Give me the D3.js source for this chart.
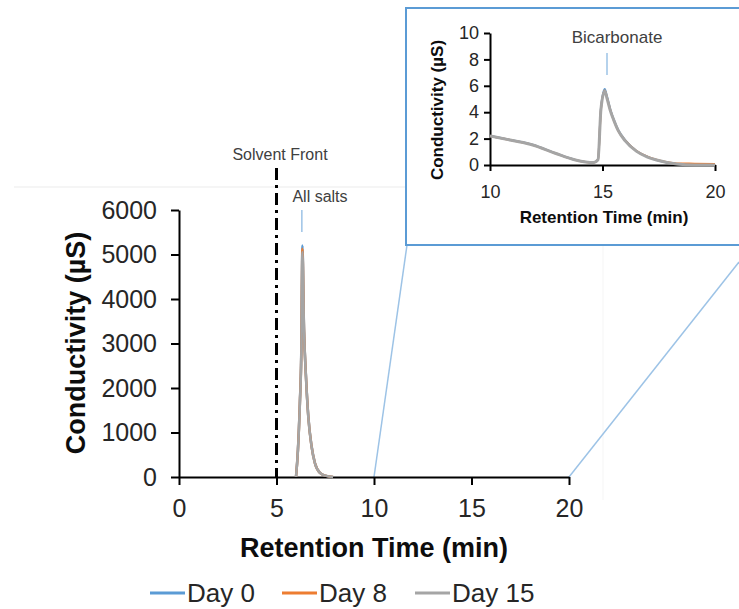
<!DOCTYPE html>
<html>
<head>
<meta charset="utf-8">
<script src="https://cdn.jsdelivr.net/npm/d3@7"></script>
<style>
  body { margin: 0; background: #fff; }
  svg { display: block; font-family: "Liberation Sans", Arial, sans-serif; }
</style>
</head>
<body>
<div id="chart"></div>
<script>
const width = 739;
const height = 609;

// Main chromatogram (peak region only, baseline is 0 elsewhere)
const mainTime = [6.0, 6.1, 6.2, 6.27, 6.33, 6.41, 6.51, 6.63, 6.8, 6.97, 7.23, 7.5, 7.9];
const mainDay0 = [0, 620, 1700, 2800, 5200, 3350, 2280, 1370, 690, 315, 92, 30, 0];
const mainDay8 = [0, 610, 1680, 2750, 5130, 3320, 2260, 1360, 685, 312, 91, 30, 0];
const mainDay15 = [0, 600, 1650, 2700, 5050, 3300, 2250, 1350, 680, 310, 90, 30, 0];

// Inset (10 - 20 min)
const insetTime = [10, 11, 11.9, 12.9, 13.8, 14.6, 14.8, 14.93, 15.1, 15.2, 15.35, 15.5, 15.7, 16.0, 16.5, 17.0, 17.4, 18.3, 19.1, 20];
const insetDay0 = [2.2, 1.87, 1.53, 0.9, 0.39, 0.18, 0.4, 4.3, 5.75, 5.2, 4.2, 3.45, 2.65, 1.9, 1.08, 0.62, 0.38, 0.08, 0.0, 0.0];
const insetDay8 = [2.2, 1.86, 1.52, 0.89, 0.38, 0.18, 0.4, 4.2, 5.65, 5.1, 4.15, 3.4, 2.6, 1.88, 1.07, 0.63, 0.4, 0.12, 0.1, 0.08];
const insetDay15 = [2.2, 1.85, 1.52, 0.89, 0.38, 0.18, 0.4, 4.2, 5.6, 5.05, 4.1, 3.4, 2.6, 1.85, 1.05, 0.6, 0.38, 0.08, 0.0, 0.0];

const seriesNames = ["Day 0", "Day 8", "Day 15"];
const xTicks = [0, 5, 10, 15, 20];
const yTicks = [0, 1000, 2000, 3000, 4000, 5000, 6000];
const insetXTicks = [10, 15, 20];
const insetYTicks = [0, 2, 4, 6, 8, 10];

const color = d3.scaleOrdinal()
    .domain(seriesNames)
    .range(["#5B9BD5", "#ED7D31", "#A5A5A5"]);

const svg = d3.select("#chart").append("svg")
    .attr("width", width)
    .attr("height", height);

// faint outline of the main chart area
svg.append("line")
    .attr("x1", 14).attr("x2", 406).attr("y1", 187).attr("y2", 187)
    .style("stroke", "#ebebeb").style("stroke-width", 1);
svg.append("line")
    .attr("x1", 603).attr("x2", 603).attr("y1", 245).attr("y2", 500)
    .style("stroke", "#f5f5f5").style("stroke-width", 1);

// ---------- main chart ----------
const x = d3.scaleLinear().domain([0, 20]).range([179, 569]);
const y = d3.scaleLinear().domain([0, 6000]).range([477, 210]);

// zoom connector lines
svg.append("line")
    .attr("x1", x(10)).attr("y1", y(0)).attr("x2", 407).attr("y2", 245)
    .style("stroke", "#9DC3E6").style("stroke-width", 1.5);
svg.append("line")
    .attr("x1", x(20)).attr("y1", y(0)).attr("x2", 739).attr("y2", 262)
    .style("stroke", "#9DC3E6").style("stroke-width", 1.5);

const xAxis = svg.append("g")
    .attr("transform", `translate(0,${y(0)})`)
    .call(d3.axisBottom(x).tickValues(xTicks).tickSize(8).tickPadding(14).tickSizeOuter(0));
const yAxis = svg.append("g")
    .attr("transform", `translate(${x(0)},0)`)
    .call(d3.axisLeft(y).tickValues(yTicks).tickFormat(d3.format("d")).tickSize(8).tickPadding(14).tickSizeOuter(0));

[xAxis, yAxis].forEach(a => {
    a.select(".domain").style("stroke", "#000").style("stroke-width", 2);
    a.selectAll(".tick line").style("stroke", "#000").style("stroke-width", 2);
    a.selectAll(".tick text")
        .style("font-size", "25px")
        .style("fill", "#262626")
        .style("font-family", "Liberation Sans, Arial, sans-serif");
});

svg.append("text")
    .attr("x", 374)
    .attr("y", 557)
    .attr("text-anchor", "middle")
    .style("font-size", "27px")
    .style("font-weight", "bold")
    .style("fill", "#0d0d0d")
    .text("Retention Time (min)");

svg.append("text")
    .attr("transform", "translate(85,343) rotate(-90)")
    .attr("text-anchor", "middle")
    .style("font-size", "27px")
    .style("font-weight", "bold")
    .style("fill", "#0d0d0d")
    .text("Conductivity (µS)");

// solvent front
svg.append("line")
    .attr("x1", x(5)).attr("x2", x(5)).attr("y1", 168).attr("y2", y(0))
    .style("stroke", "#000").style("stroke-width", 3)
    .style("stroke-dasharray", "12,5,3,5");
svg.append("text")
    .attr("x", 280).attr("y", 160)
    .attr("text-anchor", "middle")
    .style("font-size", "16px")
    .style("fill", "#404040")
    .text("Solvent Front");

svg.append("text")
    .attr("x", 320).attr("y", 202)
    .attr("text-anchor", "middle")
    .style("font-size", "16px")
    .style("fill", "#404040")
    .text("All salts");
svg.append("line")
    .attr("x1", x(6.3)).attr("x2", x(6.3)).attr("y1", 210).attr("y2", 232)
    .style("stroke", "#9DC3E6").style("stroke-width", 1.5);

const mainLine = d3.line()
    .x(d => x(d[0]))
    .y(d => y(d[1]))
    .curve(d3.curveMonotoneX);

const mainData = [mainDay0, mainDay8, mainDay15];
mainData.forEach((vals, i) => {
    svg.append("path")
        .datum(mainTime.map((t, j) => [t, vals[j]]))
        .attr("d", mainLine)
        .style("fill", "none")
        .style("stroke", color(seriesNames[i]))
        .style("stroke-width", 2.5);
});

// ---------- inset ----------
svg.append("rect")
    .attr("x", 406).attr("y", 8)
    .attr("width", 350).attr("height", 237)
    .style("fill", "#fff")
    .style("stroke", "#5B9BD5")
    .style("stroke-width", 2);

const ix = d3.scaleLinear().domain([10, 20]).range([490, 715]);
const iy = d3.scaleLinear().domain([0, 10]).range([165, 33]);

const ixAxis = svg.append("g")
    .attr("transform", `translate(0,${iy(0)})`)
    .call(d3.axisBottom(ix).tickValues(insetXTicks).tickSize(6).tickPadding(14).tickSizeOuter(0));
const iyAxis = svg.append("g")
    .attr("transform", `translate(${ix(10)},0)`)
    .call(d3.axisLeft(iy).tickValues(insetYTicks).tickSize(6).tickPadding(5).tickSizeOuter(0));

[ixAxis, iyAxis].forEach(a => {
    a.select(".domain").style("stroke", "#000").style("stroke-width", 2);
    a.selectAll(".tick line").style("stroke", "#000").style("stroke-width", 2);
    a.selectAll(".tick text")
        .style("font-size", "18px")
        .style("fill", "#262626")
        .style("font-family", "Liberation Sans, Arial, sans-serif");
});

svg.append("text")
    .attr("x", 604).attr("y", 223)
    .attr("text-anchor", "middle")
    .style("font-size", "17px")
    .style("font-weight", "bold")
    .style("fill", "#0d0d0d")
    .text("Retention Time (min)");

svg.append("text")
    .attr("transform", "translate(443,110) rotate(-90)")
    .attr("text-anchor", "middle")
    .style("font-size", "17px")
    .style("font-weight", "bold")
    .style("fill", "#0d0d0d")
    .text("Conductivity (µS)");

svg.append("text")
    .attr("x", 617).attr("y", 43)
    .attr("text-anchor", "middle")
    .style("font-size", "17px")
    .style("fill", "#404040")
    .text("Bicarbonate");
svg.append("line")
    .attr("x1", ix(15.2)).attr("x2", ix(15.2)).attr("y1", 53).attr("y2", 75)
    .style("stroke", "#9DC3E6").style("stroke-width", 1.5);

const insetLine = d3.line()
    .x(d => ix(d[0]))
    .y(d => iy(d[1]))
    .curve(d3.curveMonotoneX);

const insetData = [insetDay0, insetDay8, insetDay15];
insetData.forEach((vals, i) => {
    svg.append("path")
        .datum(insetTime.map((t, j) => [t, vals[j]]))
        .attr("d", insetLine)
        .style("fill", "none")
        .style("stroke", color(seriesNames[i]))
        .style("stroke-width", i === 2 ? 3 : 2);
});

// ---------- legend ----------
const legendX = [150, 282, 415];
const legend = svg.selectAll(".legend")
    .data(seriesNames)
    .enter().append("g")
    .attr("class", "legend")
    .attr("transform", (d, i) => `translate(${legendX[i]},593)`);

legend.append("line")
    .attr("x1", 0).attr("x2", 35)
    .style("stroke", d => color(d))
    .style("stroke-width", 3);

legend.append("text")
    .attr("x", 37)
    .attr("y", 9)
    .style("font-size", "26px")
    .style("fill", "#262626")
    .text(d => d);
</script>
</body>
</html>
